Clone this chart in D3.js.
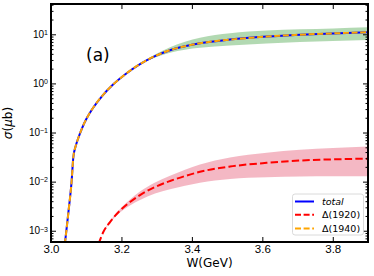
<!DOCTYPE html>
<html>
<head>
<meta charset="utf-8">
<script src="https://cdn.jsdelivr.net/npm/d3@7"></script>
<style>
  body { margin: 0; background: #fff; }
  svg { display: block; font-family: "DejaVu Sans", sans-serif; }
</style>
</head>
<body>
<div class="chart"></div>
<script>
// total cross section (blue) -- Δ(1940) (orange dashed) lies right on top of it
var totW  = [3.0392, 3.0417, 3.0491, 3.0588, 3.0633, 3.0710, 3.0775, 3.0880, 3.1014, 3.1192,
             3.1439, 3.1769, 3.2101, 3.2527, 3.2953, 3.3379, 3.3804, 3.4230, 3.5082, 3.6124,
             3.7069, 3.8006, 3.9000];
var totV  = [5.36e-4, 7.55e-4, 2.26e-3, 0.01078, 0.0310, 0.0556, 0.0773, 0.122, 0.195, 0.316,
             0.541, 0.959, 1.52, 2.48, 3.61, 4.75, 5.72, 6.56, 7.80, 8.98,
             9.81, 10.43, 10.98];
var totHi = [5.36e-4, 7.55e-4, 2.26e-3, 0.01078, 0.0310, 0.0556, 0.0773, 0.122, 0.195, 0.316,
             0.541, 0.959, 1.52, 2.55, 3.87, 5.47, 7.06, 8.49, 10.48, 11.9,
             12.7, 13.2, 13.9];
var totLo = [5.36e-4, 7.55e-4, 2.26e-3, 0.01078, 0.0310, 0.0556, 0.0773, 0.122, 0.195, 0.316,
             0.541, 0.959, 1.52, 2.41, 3.37, 4.22, 4.86, 5.31, 5.89, 6.47,
             6.97, 7.30, 7.66];
var d1940V = totV;

// Δ(1920) contribution (red dashed) and its band
var d1920W  = [3.1349, 3.1485, 3.1675, 3.1959, 3.2243, 3.2527, 3.2953, 3.3379, 3.3804, 3.4230,
               3.5082, 3.6124, 3.7069, 3.8006, 3.9000];
var d1920V  = [5.36e-4, 9.41e-4, 1.50e-3, 2.58e-3, 3.84e-3, 5.33e-3, 7.76e-3, 0.01028, 0.0130, 0.01585,
               0.0203, 0.02414, 0.0269, 0.02844, 0.02938];
var d1920Hi = [5.36e-4, 9.54e-4, 1.557e-3, 2.77e-3, 4.32e-3, 6.28e-3, 9.58e-3, 0.01318, 0.01747, 0.02222,
               0.03096, 0.03859, 0.04441, 0.04830, 0.05206];
var d1920Lo = [5.36e-4, 9.28e-4, 1.431e-3, 2.35e-3, 3.26e-3, 4.22e-3, 5.72e-3, 6.97e-3, 8.21e-3, 9.47e-3,
               0.01130, 0.01223, 0.01271, 0.01282, 0.01287];

var xTicks = [3.0, 3.2, 3.4, 3.6, 3.8];
var yExp   = [-3, -2, -1, 0, 1];
var legendLabels = ["total", "Δ(1920)", "Δ(1940)"];

var width = 374, height = 276;
var plotL = 51, plotR = 368, plotT = 4, plotB = 242;

var x = d3.scaleLinear().domain([3.0, 3.9]).range([plotL, plotR]);
var y = d3.scaleLog().domain([5.9e-4, 41.4]).range([plotB, plotT]);

var svg = d3.select(".chart").append("svg")
    .attr("width", width)
    .attr("height", height);

svg.append("clipPath").attr("id", "plot")
  .append("rect")
    .attr("x", plotL).attr("y", plotT)
    .attr("width", plotR - plotL).attr("height", plotB - plotT);

var plot = svg.append("g").attr("clip-path", "url(#plot)");

function zip(ws, vs) { return ws.map(function(w, i) { return [w, vs[i]]; }); }

var line = d3.line()
    .x(function(d) { return x(d[0]); })
    .y(function(d) { return y(d[1]); })
    .curve(d3.curveMonotoneX);

var area = d3.area()
    .x(function(d) { return x(d[0]); })
    .y0(function(d) { return y(d[1]); })
    .y1(function(d) { return y(d[2]); })
    .curve(d3.curveMonotoneX);

plot.append("path")
    .datum(totW.map(function(w, i) { return [w, totLo[i], totHi[i]]; }))
    .attr("d", area)
    .attr("fill", "green").attr("fill-opacity", 0.3);

plot.append("path")
    .datum(d1920W.map(function(w, i) { return [w, d1920Lo[i], d1920Hi[i]]; }))
    .attr("d", area)
    .attr("fill", "crimson").attr("fill-opacity", 0.3);

plot.append("path")
    .datum(zip(totW, totV))
    .attr("d", line)
    .attr("fill", "none").attr("stroke", "#0000ff").attr("stroke-width", 2);

plot.append("path")
    .datum(zip(d1920W, d1920V))
    .attr("d", line)
    .attr("fill", "none").attr("stroke", "#ff0000").attr("stroke-width", 2)
    .attr("stroke-dasharray", "7.4,3.2");

plot.append("path")
    .datum(zip(totW, d1940V))
    .attr("d", line)
    .attr("fill", "none").attr("stroke", "#ffa500").attr("stroke-width", 2)
    .attr("stroke-dasharray", "6,2.6");

// axes, ticks pointing inward on all four sides
var yMajor = yExp.map(function(e) { return Math.pow(10, e); });
var yMinor = [];
for (var e = -4; e <= 1; e++) {
  for (var k = 2; k <= 9; k++) {
    var v = k * Math.pow(10, e);
    if (v > 5.9e-4 && v < 41.4) yMinor.push(v);
  }
}

var xAxis = svg.append("g")
    .attr("transform", "translate(0," + plotB + ")")
    .call(d3.axisBottom(x).tickValues(xTicks).tickSize(-5).tickSizeOuter(0).tickPadding(3)
          .tickFormat(d3.format(".1f")));
xAxis.selectAll("text").attr("font-size", "11.5px").attr("fill", "#000");

svg.append("g")
    .attr("transform", "translate(0," + plotT + ")")
    .call(d3.axisTop(x).tickValues(xTicks).tickSize(-5).tickSizeOuter(0).tickFormat(""));

var yAxis = svg.append("g")
    .attr("transform", "translate(" + plotL + ",0)")
    .call(d3.axisLeft(y).tickValues(yMajor).tickSize(-5).tickSizeOuter(0).tickPadding(3)
          .tickFormat(function() { return ""; }));
yAxis.selectAll(".tick text")
    .attr("font-size", "10px").attr("fill", "#000")
    .each(function(d, i) {
      var t = d3.select(this);
      t.append("tspan").text("10");
      t.append("tspan").attr("dy", "-0.42em").attr("font-size", "7px")
        .text(yExp[i] < 0 ? "\u2212" + (-yExp[i]) : String(yExp[i]));
    });

svg.append("g")
    .attr("transform", "translate(" + plotL + ",0)")
    .call(d3.axisLeft(y).tickValues(yMinor).tickSize(-2.5).tickSizeOuter(0).tickFormat(""));
svg.append("g")
    .attr("transform", "translate(" + plotR + ",0)")
    .call(d3.axisRight(y).tickValues(yMajor).tickSize(-5).tickSizeOuter(0).tickFormat(""));
svg.append("g")
    .attr("transform", "translate(" + plotR + ",0)")
    .call(d3.axisRight(y).tickValues(yMinor).tickSize(-2.5).tickSizeOuter(0).tickFormat(""));

svg.selectAll(".domain").remove();
svg.selectAll(".tick line").attr("stroke", "#000").attr("stroke-width", 1);

svg.append("rect")
    .attr("x", plotL).attr("y", plotT)
    .attr("width", plotR - plotL).attr("height", plotB - plotT)
    .attr("fill", "none").attr("stroke", "#000").attr("stroke-width", 2);

// labels
svg.append("text")
    .attr("x", (plotL + plotR) / 2).attr("y", 267)
    .attr("text-anchor", "middle").attr("font-size", "12px")
    .text("W(GeV)");

var yl = svg.append("text")
    .attr("transform", "translate(12," + ((plotT + plotB) / 2) + ") rotate(-90)")
    .attr("text-anchor", "middle").attr("font-size", "12px");
yl.append("tspan").attr("font-style", "italic").text("σ");
yl.append("tspan").text("(");
yl.append("tspan").attr("font-style", "italic").text("μ");
yl.append("tspan").text("b)");

svg.append("text")
    .attr("x", 86).attr("y", 61)
    .attr("font-size", "17px")
    .text("(a)");

// legend
var leg = svg.append("g");
leg.append("rect")
    .attr("x", 292.5).attr("y", 194)
    .attr("width", 71).attr("height", 41).attr("rx", 2.5)
    .attr("fill", "#fff").attr("fill-opacity", 0.8)
    .attr("stroke", "#d0d0d0").attr("stroke-width", 0.8);

var legColors = ["#0000ff", "#ff0000", "#ffa500"];
var legDash = [null, "6,2.6", "6,2.6"];
var legY = [201.5, 214.8, 228.5];
legendLabels.forEach(function(lab, i) {
  leg.append("line")
      .attr("x1", 295).attr("x2", 314)
      .attr("y1", legY[i]).attr("y2", legY[i])
      .attr("stroke", legColors[i]).attr("stroke-width", 2)
      .attr("stroke-dasharray", legDash[i]);
  leg.append("text")
      .attr("x", 322).attr("y", legY[i]).attr("dy", "0.35em")
      .attr("font-size", "9.5px")
      .attr("font-style", i === 0 ? "italic" : "normal")
      .text(lab);
});
</script>
</body>
</html>
